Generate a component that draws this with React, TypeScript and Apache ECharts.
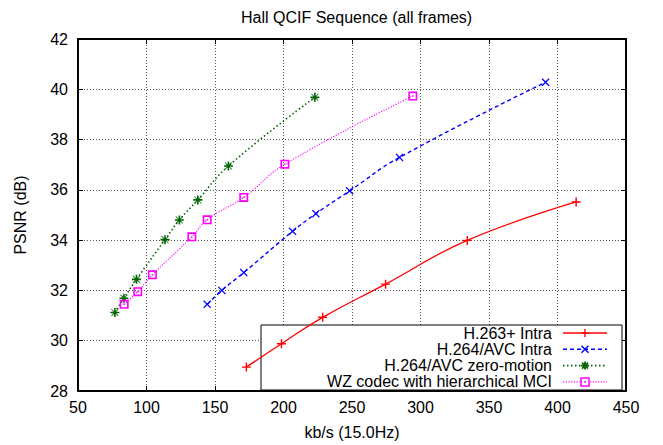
import React, { useEffect, useRef } from "react";
import * as echarts from "echarts";

const TITLE = "Hall QCIF Sequence (all frames)";
const X_NAME = "kb/s (15.0Hz)";
const Y_NAME = "PSNR (dB)";

const seriesNames = [
  "H.263+ Intra",
  "H.264/AVC Intra",
  "H.264/AVC zero-motion",
  "WZ codec with hierarchical MCI",
];

const h263X = [172.9, 198.5, 228.6, 274.5, 334.1, 413.6];
const h263Y = [28.95, 29.88, 30.93, 32.25, 33.99, 35.52];

const h264IntraX = [144.3, 155.0, 171.0, 206.6, 223.6, 248.3, 284.7, 391.3];
const h264IntraY = [31.45, 32.0, 32.71, 34.35, 35.05, 35.96, 37.29, 40.28];

const h264ZeroX = [76.9, 83.5, 92.7, 113.5, 124.0, 137.5, 159.8, 222.9];
const h264ZeroY = [31.12, 31.69, 32.44, 34.02, 34.8, 35.6, 36.95, 39.68];

const wzX = [83.7, 93.6, 104.3, 133.1, 144.3, 171.0, 201.0, 294.4];
const wzY = [31.45, 31.95, 32.62, 34.13, 34.81, 35.7, 37.02, 39.73];

const FONT = "Liberation Sans, Arial, Helvetica, sans-serif";

const COLORS = ["#ff0000", "#0000ff", "#006400", "#ff00ff"];

const PLUS = "path://M4.2,0H5.8V4.2H10V5.8H5.8V10H4.2V5.8H0V4.2H4.2Z";
const CROSS =
  "path://M1.1,0L5,3.9L8.9,0L10,1.1L6.1,5L10,8.9L8.9,10L5,6.1L1.1,10L0,8.9L3.9,5L0,1.1Z";
const STAR =
  "path://M4.1,0H5.9V3.5L8.6,0.8L9.2,1.4L6.5,4.1H10V5.9H6.5L9.2,8.6L8.6,9.2L5.9,6.5V10H4.1V6.5L1.4,9.2L0.8,8.6L3.5,5.9H0V4.1H3.5L0.8,1.4L1.4,0.8L4.1,3.5Z";
const SQUARE =
  "path://M0,0H10V10H0ZM1.8,1.8V8.2H8.2V1.8ZM4.2,4.2H5.8V5.8H4.2Z";

function zip(xs: number[], ys: number[]) {
  return xs.map((x, i) => [x, ys[i]]);
}

export default function App() {
  const ref = useRef<HTMLDivElement>(null);

  useEffect(() => {
    if (!ref.current) return;
    const chart = echarts.init(ref.current, undefined, { renderer: "svg" });

    const lx0 = 563;
    const lx1 = 607;
    const mx = 585;
    const textRight = 552;
    const rowY = [333, 349.3, 365.6, 381.9];

    const legendGraphics: any[] = [
      {
        type: "rect",
        shape: { x: 261, y: 325, width: 361, height: 65 },
        style: { fill: "#fff", stroke: "#000", lineWidth: 1 },
        z: 1,
      },
    ];
    const dashes: any[] = [null, [4, 3], [1.5, 2.5], [1.2, 1.5]];
    const widths = [1.3, 1.4, 1.6, 1.1];
    seriesNames.forEach((name, i) => {
      const y = rowY[i];
      legendGraphics.push({
        type: "text",
        x: textRight,
        y,
        style: {
          text: name,
          fill: "#000",
          font: `16px ${FONT}`,
          textAlign: "right",
          textVerticalAlign: "middle",
        },
        z: 3,
      });
      legendGraphics.push({
        type: "line",
        shape: { x1: lx0, y1: y, x2: lx1, y2: y },
        style: {
          stroke: COLORS[i],
          lineWidth: widths[i],
          lineDash: dashes[i] || undefined,
        },
        z: 3,
      });
    });
    const c0 = COLORS[0];
    legendGraphics.push(
      { type: "line", shape: { x1: mx - 4, y1: rowY[0], x2: mx + 4, y2: rowY[0] }, style: { stroke: c0, lineWidth: 1.4 }, z: 4 },
      { type: "line", shape: { x1: mx, y1: rowY[0] - 4, x2: mx, y2: rowY[0] + 4 }, style: { stroke: c0, lineWidth: 1.4 }, z: 4 }
    );
    const c1 = COLORS[1];
    legendGraphics.push(
      { type: "line", shape: { x1: mx - 3.5, y1: rowY[1] - 3.5, x2: mx + 3.5, y2: rowY[1] + 3.5 }, style: { stroke: c1, lineWidth: 1.5 }, z: 4 },
      { type: "line", shape: { x1: mx - 3.5, y1: rowY[1] + 3.5, x2: mx + 3.5, y2: rowY[1] - 3.5 }, style: { stroke: c1, lineWidth: 1.5 }, z: 4 }
    );
    const c2 = COLORS[2];
    legendGraphics.push(
      { type: "line", shape: { x1: mx - 4, y1: rowY[2], x2: mx + 4, y2: rowY[2] }, style: { stroke: c2, lineWidth: 1.8 }, z: 4 },
      { type: "line", shape: { x1: mx, y1: rowY[2] - 4, x2: mx, y2: rowY[2] + 4 }, style: { stroke: c2, lineWidth: 1.8 }, z: 4 },
      { type: "line", shape: { x1: mx - 3, y1: rowY[2] - 3, x2: mx + 3, y2: rowY[2] + 3 }, style: { stroke: c2, lineWidth: 1.6 }, z: 4 },
      { type: "line", shape: { x1: mx - 3, y1: rowY[2] + 3, x2: mx + 3, y2: rowY[2] - 3 }, style: { stroke: c2, lineWidth: 1.6 }, z: 4 }
    );
    const c3 = COLORS[3];
    legendGraphics.push(
      { type: "rect", shape: { x: mx - 4, y: rowY[3] - 4, width: 8, height: 8 }, style: { fill: "#fff", stroke: c3, lineWidth: 1.5 }, z: 4 },
      { type: "rect", shape: { x: mx - 0.8, y: rowY[3] - 0.8, width: 1.6, height: 1.6 }, style: { fill: c3 }, z: 4 }
    );

    const axisCommon = {
      axisLine: { show: true, lineStyle: { color: "#000", width: 2 } },
      axisTick: { show: true, inside: true, length: 5, lineStyle: { color: "#000", width: 1 } },
    };

    const symbols = [PLUS, CROSS, STAR, SQUARE];
    const symbolSizes = [9, 8, 9, 9];
    const datas = [zip(h263X, h263Y), zip(h264IntraX, h264IntraY), zip(h264ZeroX, h264ZeroY), zip(wzX, wzY)];
    const lineTypes: any[] = ["solid", [4, 3], [1.5, 2.5], [1.2, 1.5]];

    chart.setOption({
      animation: false,
      backgroundColor: "#fff",
      textStyle: { fontFamily: FONT },
      title: {
        text: TITLE,
        left: 236,
        top: 4,
        textStyle: { fontSize: 16, fontWeight: "normal", color: "#000", fontFamily: FONT },
      },
      grid: { left: 78, right: 37, top: 39, bottom: 49, containLabel: false },
      xAxis: [
        {
          type: "value",
          min: 50,
          max: 450,
          interval: 50,
          position: "bottom",
          name: X_NAME,
          nameLocation: "middle",
          nameGap: 33,
          nameTextStyle: { fontSize: 16, color: "#000", fontFamily: FONT },
          axisLabel: { fontSize: 16, color: "#000", margin: 8, fontFamily: FONT },
          splitLine: { show: true, lineStyle: { color: "#555", type: [1, 2], width: 1 } },
          ...axisCommon,
        },
        {
          type: "value",
          min: 50,
          max: 450,
          interval: 50,
          position: "top",
          axisLabel: { show: false },
          splitLine: { show: false },
          ...axisCommon,
        },
      ],
      yAxis: [
        {
          type: "value",
          min: 28,
          max: 42,
          interval: 2,
          position: "left",
          name: Y_NAME,
          nameLocation: "middle",
          nameGap: 50,
          nameRotate: 90,
          nameTextStyle: { fontSize: 16, color: "#000", fontFamily: FONT },
          axisLabel: { fontSize: 16, color: "#000", margin: 10, fontFamily: FONT },
          splitLine: { show: true, lineStyle: { color: "#555", type: [1, 2], width: 1 } },
          ...axisCommon,
        },
        {
          type: "value",
          min: 28,
          max: 42,
          interval: 2,
          position: "right",
          axisLabel: { show: false },
          splitLine: { show: false },
          ...axisCommon,
        },
      ],
      graphic: legendGraphics,
      series: seriesNames.map((name, i) => ({
        name,
        type: "line",
        xAxisIndex: 0,
        yAxisIndex: 0,
        data: datas[i],
        smooth: 0.45,
        symbol: symbols[i],
        symbolSize: symbolSizes[i],
        showSymbol: true,
        itemStyle: { color: COLORS[i] },
        lineStyle: { color: COLORS[i], width: widths[i], type: lineTypes[i] },
        z: 2,
      })),
    });

    return () => chart.dispose();
  }, []);

  return (
    <div
      ref={ref}
      style={{ position: "fixed", left: 0, top: 0, width: 663, height: 445, background: "#fff" }}
    />
  );
}
